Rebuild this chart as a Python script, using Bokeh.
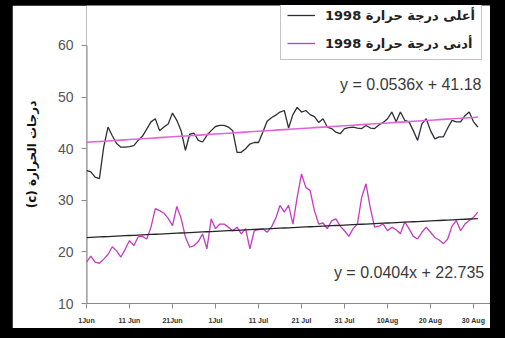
from bokeh.plotting import figure
from bokeh.models import Range1d, FixedTicker, Legend, LegendItem, Label, ColumnDataSource
from bokeh.embed import file_html
from bokeh.resources import INLINE

# ---- data ----
days = list(range(92))  # 1 Jun .. 31 Aug 1998
high_1998 = [35.8, 35.5, 34.5, 34.2, 40.3, 44.2, 42.5, 41.0, 40.3, 40.3,
             40.4, 40.6, 41.6, 42.4, 43.8, 45.2, 45.8, 43.5, 44.2, 44.8,
             46.9, 45.5, 43.5, 39.7, 42.8, 43.0, 41.6, 41.3, 42.6, 43.5,
             44.3, 44.5, 44.5, 44.2, 43.5, 39.3, 39.3, 40.0, 40.9, 41.2,
             41.2, 43.2, 45.3, 46.0, 46.5, 47.1, 47.4, 44.0, 46.6, 48.0,
             47.1, 47.4, 46.6, 46.2, 45.1, 45.8, 44.2, 43.9, 43.2, 42.9,
             43.9, 44.1, 44.2, 44.0, 43.9, 44.5, 44.0, 43.9, 44.6, 45.1,
             45.8, 47.1, 45.2, 47.1, 45.5, 45.2, 43.5, 41.6, 44.8, 45.8,
             43.5, 41.9, 42.3, 42.3, 44.0, 45.5, 45.2, 45.2, 46.4, 47.1,
             45.2, 44.2]
low_1998 = [18.0, 19.2, 18.0, 17.8, 18.6, 19.5, 21.0, 20.2, 19.0, 20.5,
            22.2, 21.2, 22.9, 23.0, 22.5, 24.8, 28.4, 28.0, 27.5, 26.5,
            25.1, 28.8, 26.5, 22.9, 20.9, 21.2, 22.0, 23.5, 20.6, 26.4,
            24.5, 25.4, 25.4, 24.8, 24.1, 24.8, 23.5, 24.5, 20.6, 24.1,
            24.3, 24.5, 23.8, 24.8, 26.5, 29.0, 27.7, 29.0, 25.4, 30.6,
            35.1, 32.5, 31.9, 28.0, 25.4, 25.6, 24.5, 26.0, 26.4, 25.0,
            24.1, 23.0, 24.5, 25.4, 30.6, 33.2, 28.5, 24.8, 25.0, 25.4,
            24.1, 24.8, 24.3, 23.5, 25.8, 24.5, 23.0, 22.5, 23.8, 24.8,
            23.8, 22.8, 22.3, 21.6, 22.5, 25.0, 26.1, 24.1, 25.4, 26.1,
            26.7, 27.7]
tick_days = [0, 10, 20, 30, 40, 50, 60, 70, 80, 90]
tick_labels = ["1Jun", "11 Jun", "21Jun", "1Jul", "11 Jul", "21 Jul",
               "31 Jul", "10Aug", "20 Aug", "30 Aug"]
y_ticks = [10, 20, 30, 40, 50, 60]
trend_slopes = [0.0536, 0.0404]
trend_intercepts = [41.18, 22.735]
series_names = ["أعلى درجة حرارة 1998", "أدنى درجة حرارة 1998"]
y_title = "(c) درجات الحرارة"

# trendlines (Excel numbers points 1..N)
trend_high = [trend_slopes[0] * (d + 1) + trend_intercepts[0] for d in days]
trend_low = [trend_slopes[1] * (d + 1) + trend_intercepts[1] for d in days]

src = ColumnDataSource(dict(day=days, high=high_1998, low=low_1998,
                            th=trend_high, tl=trend_low))

AXIS_COL = "#8a8a8a"

# the frame fills the canvas to the top and right so that the legend and the
# equations are not clipped
p = figure(width=478, height=323, output_backend="svg", toolbar_location=None,
           x_range=Range1d(0, 93.95), y_range=Range1d(10, 67.75),
           min_border_left=74, min_border_right=0, min_border_top=0,
           min_border_bottom=25, background_fill_color="white",
           border_fill_color="white", outline_line_color=None,
           margin=(5, 15, 10, 12))
p.grid.visible = False

# y axis line, only over the span of the ticks (10..60)
p.segment(x0=[days[0]], y0=[y_ticks[0]], x1=[days[0]], y1=[y_ticks[-1]],
          line_color=AXIS_COL, line_width=2)

HIGH_COL = "#2e2e36"
LOW_COL = "#c43bc4"
r_high = p.line("day", "high", source=src, line_color=HIGH_COL, line_width=1.3)
r_low = p.line("day", "low", source=src, line_color=LOW_COL, line_width=1.3)
p.line("day", "th", source=src, line_color="#e065d8", line_width=1.6)
p.line("day", "tl", source=src, line_color="#252525", line_width=1.3)

# axes
for ax in (p.xaxis[0], p.yaxis[0]):
    ax.axis_line_color = AXIS_COL
    ax.major_tick_line_color = AXIS_COL
    ax.minor_tick_line_color = None
    ax.major_tick_in = 0
    ax.major_tick_out = 5
yax = p.yaxis[0]
yax.axis_line_color = None
yax.axis_line_alpha = 0.0
yax.axis_line_width = 0

p.xaxis.ticker = FixedTicker(ticks=tick_days)
p.xaxis.major_label_overrides = {d: l for d, l in zip(tick_days, tick_labels)}
p.xaxis.major_label_text_font = "Liberation Sans"
p.xaxis.major_label_text_font_style = "bold"
p.xaxis.major_label_text_font_size = "7px"
p.xaxis.major_label_text_color = "#333333"
p.xaxis.major_label_standoff = 8

p.yaxis.ticker = FixedTicker(ticks=y_ticks)
p.yaxis.major_label_text_font = "Liberation Sans"
p.yaxis.major_label_text_font_size = "14px"
p.yaxis.major_label_text_color = "#555555"
p.yaxis.major_label_standoff = 8
p.yaxis.axis_label = y_title
p.yaxis.axis_label_text_font = "DejaVu Sans"
p.yaxis.axis_label_text_font_style = "bold"
p.yaxis.axis_label_text_font_size = "12px"
p.yaxis.axis_label_text_color = "#111111"
p.yaxis.axis_label_standoff = 16

# trendline equations
eq1 = "y = %sx + %s" % (trend_slopes[0], trend_intercepts[0])
eq2 = "y = %sx + %s" % (trend_slopes[1], trend_intercepts[1])
for txt, xx, yy in ((eq1, 91.86, 52.4), (eq2, 92.5, 16.0)):
    p.add_layout(Label(x=xx, y=yy, text=txt, text_align="right",
                       text_baseline="middle", text_font="Liberation Sans",
                       text_font_size="16px", text_color="#3a3a3a"))

legend = Legend(items=[LegendItem(label=series_names[0], renderers=[r_high]),
                       LegendItem(label=series_names[1], renderers=[r_low])],
                location=(194, 243), orientation="vertical",
                border_line_color=AXIS_COL, border_line_width=1,
                background_fill_color="white", background_fill_alpha=1.0,
                label_text_font="DejaVu Sans", label_text_font_style="bold",
                label_text_font_size="13px", label_text_color="#222222",
                glyph_width=28, glyph_height=20, label_height=20,
                spacing=8, padding=6, margin=0, label_standoff=10)
p.add_layout(legend)

html = file_html(p, INLINE)
html = html.replace("</head>", "<style>body{background-color:#000000;}</style></head>", 1)
open("out.html", "w").write(html)
